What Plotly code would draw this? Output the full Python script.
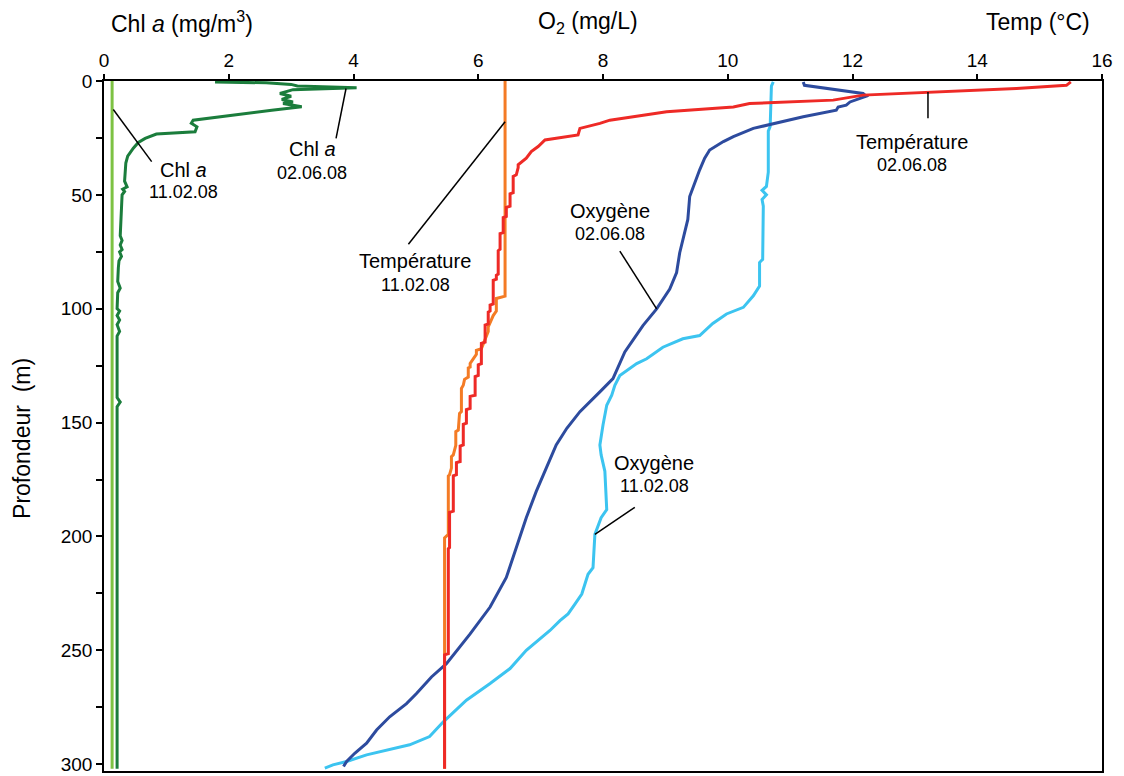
import plotly.graph_objects as go

# ---- profile data: values (shared 0-16 scale) against depth (m) ----
# Chlorophyll a, 11.02.08 (mg/m3)
chl_feb_val = [0.13, 0.13]
chl_feb_depth = [0, 302]

# Chlorophyll a, 02.06.08 (mg/m3)
chl_jun_val = [1.78, 2.6, 3.0, 3.1, 4.05, 3.03, 2.82, 3.0, 2.85, 3.03, 2.87, 3.17,
               2.69, 2.23, 1.91, 1.43, 1.40, 1.49, 1.46, 0.84, 0.66, 0.55, 0.47, 0.38,
               0.35, 0.34, 0.33, 0.37, 0.30, 0.33, 0.29, 0.28, 0.27, 0.26, 0.29, 0.26,
               0.29, 0.25, 0.28, 0.24, 0.23, 0.22, 0.26, 0.22, 0.21, 0.25, 0.21, 0.25,
               0.21, 0.25, 0.21, 0.21, 0.26, 0.21, 0.21]
chl_jun_depth = [0.4, 0.8, 1.5, 2.2, 3.0, 3.8, 5.5, 6.7, 8.1, 9.2, 9.9, 11.3,
                 12.8, 14.3, 15.4, 17.2, 18.6, 20.1, 22.3, 23.3, 25.2, 27.0, 29.5, 33.0,
                 36.0, 39.0, 44.0, 46.5, 47.5, 48.5, 50.0, 56.0, 64.0, 68.0, 70.0, 72.0,
                 74.0, 75.0, 77.0, 79.0, 82.0, 88.0, 91.0, 93.0, 100.0, 101.0, 103.0, 105.0,
                 107.0, 110.0, 112.0, 139.0, 141.0, 143.0, 302.0]

# Temperature, 11.02.08 (deg C)
temp_feb_val = [6.43, 6.43, 6.29, 6.29, 6.24, 6.21, 6.16, 6.16, 6.10, 6.05, 5.97, 5.97,
                5.92, 5.87, 5.87, 5.84, 5.84, 5.78, 5.76, 5.73, 5.73, 5.70, 5.68, 5.64,
                5.64, 5.60, 5.57, 5.57, 5.54, 5.52, 5.52, 5.46, 5.46]
temp_feb_depth = [0, 94.5, 95.5, 101, 103, 105, 108, 110, 114, 117.6, 118.3, 120,
                  122, 124, 125.6, 126, 130, 131, 133.6, 135, 145.2, 146, 153.3, 154,
                  160, 164.2, 165, 170, 172.9, 173.5, 199.1, 200.6, 302]

# Temperature, 02.06.08 (deg C)
temp_jun_val = [15.5, 15.43, 14.63, 13.24, 12.17, 11.69, 10.35, 10.09, 9.02, 8.11, 7.95,
                7.63, 7.60, 7.07, 6.96, 6.85, 6.77, 6.64, 6.64, 6.61, 6.56, 6.56, 6.51,
                6.51, 6.45, 6.45, 6.40, 6.40, 6.35, 6.35, 6.32, 6.32, 6.29, 6.29, 6.24,
                6.24, 6.19, 6.19, 6.16, 6.16, 6.11, 6.11, 6.05, 6.05, 6.00, 6.00, 5.95,
                5.95, 5.87, 5.87, 5.81, 5.81, 5.76, 5.76, 5.71, 5.71, 5.65, 5.65, 5.60,
                5.60, 5.54, 5.54, 5.52, 5.52, 5.46, 5.46]
temp_jun_depth = [0.4, 1.9, 3.3, 5.1, 6.2, 8.4, 9.9, 11.4, 13.5, 17.2, 18.6,
                  20.8, 23.7, 25.9, 28.8, 31.0, 33.9, 36.8, 38.0, 41.2, 41.9, 49.0, 49.5,
                  55.0, 55.5, 59.5, 60.0, 66.6, 67.0, 73.9, 74.5, 84.8, 85.3, 87.0, 87.5,
                  97.9, 98.4, 101.0, 101.5, 106.7, 107.2, 114.7, 115.2, 124.1, 124.6, 129.3, 129.8,
                  138.0, 138.5, 143.8, 144.3, 150.3, 150.8, 159.8, 160.3, 167.1, 167.6, 172.9, 173.4,
                  188.9, 189.4, 204.9, 205.4, 251.5, 252.0, 302.0]

# Oxygen, 11.02.08 (mg/L)
oxy_feb_val = [10.73, 10.70, 10.68, 10.65, 10.65, 10.62, 10.55, 10.62, 10.55, 10.57, 10.56,
               10.51, 10.51, 10.41, 10.25, 9.98, 9.76, 9.55, 9.28, 8.96, 8.70, 8.54, 8.27,
               8.19, 8.14, 8.06, 8.00, 7.95, 7.97, 8.03, 8.06, 7.97, 7.87, 7.84, 7.76, 7.66,
               7.55, 7.44, 7.31, 7.15, 6.77, 6.51, 6.19, 5.81, 5.44, 5.22, 4.90, 4.53, 4.21,
               3.89, 3.67, 3.54]
oxy_feb_depth = [0.4, 2.2, 20.0, 22.0, 40.0, 46.3, 48.0, 50.0, 52.0, 55.0, 78.3,
                 79.7, 90.0, 94.3, 99.4, 102.3, 106.5, 111.8, 113.2, 116.9, 122.0, 124.1, 129.3,
                 133.6, 138.0, 142.4, 151.1, 159.8, 164.2, 171.4, 188.2, 191.8, 199.1, 213.7, 216.6, 225.3,
                 229.7, 234.0, 237.0, 241.3, 250.0, 258.0, 264.6, 271.9, 281.4, 287.9, 291.5, 293.7, 295.9,
                 298.8, 300.3, 301.7]

# Oxygen, 02.06.08 (mg/L)
oxy_jun_val = [11.21, 11.23, 12.17, 12.22, 11.96, 11.90, 11.77, 11.74, 11.21, 10.62, 10.41,
               10.09, 9.93, 9.71, 9.63, 9.55, 9.47, 9.39, 9.36, 9.31, 9.23, 9.18, 9.07,
               8.86, 8.64, 8.35, 8.16, 7.95, 7.63, 7.42, 7.25, 7.09, 6.93, 6.77, 6.61,
               6.45, 6.19, 5.87, 5.49, 5.25, 5.01, 4.85, 4.58, 4.37, 4.21, 4.02, 3.89, 3.84]
oxy_jun_depth = [0.4, 1.9, 5.5, 6.7, 9.2, 10.6, 11.4, 12.8, 15.7, 19.3, 20.8,
                 24.4, 26.6, 30.3, 33.9, 39.0, 44.8, 50.7, 60.8, 66.6, 75.4, 84.1, 91.4,
                 100.1, 107.4, 119.0, 130.7, 136.5, 145.2, 152.5, 159.8, 170.0, 180.2, 191.8, 205.0,
                 218.0, 231.0, 242.8, 255.9, 261.7, 269.0, 273.4, 279.2, 285.0, 290.8, 295.2, 298.8, 301.0]

# axis ticks
x_ticks = [0, 2, 4, 6, 8, 10, 12, 14, 16]
y_ticks = [0, 50, 100, 150, 200, 250, 300]
y_minor_ticks = [25, 75, 125, 175, 225, 275]

FONT = "Arial, 'Liberation Sans', sans-serif"

series = [
    (chl_feb_val, chl_feb_depth, "#7DC243", "Chl a 11.02.08"),
    (chl_jun_val, chl_jun_depth, "#1B7D3C", "Chl a 02.06.08"),
    (temp_feb_val, temp_feb_depth, "#F47B25", "Température 11.02.08"),
    (oxy_feb_val, oxy_feb_depth, "#3CC4F0", "Oxygène 11.02.08"),
    (oxy_jun_val, oxy_jun_depth, "#2D4B9E", "Oxygène 02.06.08"),
    (temp_jun_val, temp_jun_depth, "#EE2A26", "Température 02.06.08"),
]

fig = go.Figure()
for vals, depth, color, name in series:
    fig.add_trace(go.Scatter(
        x=vals, y=depth, mode="lines", name=name,
        line=dict(color=color, width=3),
        hoverinfo="skip", cliponaxis=True,
    ))

# leader lines from labels to curves (data coordinates)
leaders = [
    ((0.149, 12.5), (0.764, 35.4)),
    ((3.88, 3.3), (3.72, 25.2)),
    ((6.43, 17.9), (4.88, 71.7)),
    ((8.27, 74.7), (8.86, 100.1)),
    ((13.21, 4.8), (13.21, 16.4)),
    ((8.51, 187.2), (7.87, 199.1)),
]
for (x0, y0), (x1, y1) in leaders:
    fig.add_shape(type="line", xref="x", yref="y", x0=x0, y0=y0, x1=x1, y1=y1,
                  line=dict(color="black", width=1.5))

# curve labels: name line and date line
curve_labels = [
    ("Chl <i>a</i>", "11.02.08", 1.27, 38.9, 48.9),
    ("Chl <i>a</i>", "02.06.08", 3.335, 29.7, 40.2),
    ("Température", "11.02.08", 4.99, 79.0, 89.5),
    ("Oxygène", "02.06.08", 8.11, 57.2, 67.2),
    ("Température", "02.06.08", 12.95, 26.6, 37.1),
    ("Oxygène", "11.02.08", 8.82, 167.7, 177.7),
]
annotations = []
for name, date, x, y_name, y_date in curve_labels:
    annotations.append(dict(x=x, y=y_name, xref="x", yref="y", text=name, showarrow=False,
                            font=dict(family=FONT, size=20, color="black"),
                            xanchor="center", yanchor="middle"))
    annotations.append(dict(x=x, y=y_date, xref="x", yref="y", text=date, showarrow=False,
                            font=dict(family=FONT, size=18, color="black"),
                            xanchor="center", yanchor="middle"))

# axis titles
W, H = 1124, 776
L, R, T, B = 104, 22, 81, 1
pw, ph = W - L - R, H - T - B


def px(x):
    return (x - L) / pw


def py(y):
    return 1 - (y - T) / ph


title_font = dict(family=FONT, size=23, color="black")
annotations += [
    dict(x=px(109), y=py(22), xref="paper", yref="paper", text="Chl <i>a</i> (mg/m<sup>3</sup>)",
         showarrow=False, font=title_font, xanchor="left", yanchor="middle"),
    dict(x=px(588), y=py(22), xref="paper", yref="paper", text="O<sub>2</sub> (mg/L)",
         showarrow=False, font=title_font, xanchor="center", yanchor="middle"),
    dict(x=px(1092), y=py(22), xref="paper", yref="paper", text="Temp (°C)",
         showarrow=False, font=title_font, xanchor="right", yanchor="middle"),
    dict(x=px(22), y=py(441), xref="paper", yref="paper", text="Profondeur\u00a0 (m)",
         showarrow=False, font=title_font, textangle=-90, xanchor="center", yanchor="middle"),
]

fig.update_layout(
    width=W, height=H,
    margin=dict(l=L, r=R, t=T, b=B, pad=0),
    paper_bgcolor="white", plot_bgcolor="white",
    showlegend=False,
    font=dict(family=FONT, size=19, color="black"),
    annotations=annotations,
    xaxis=dict(
        side="top", range=[0, 16], tickmode="array", tickvals=x_ticks,
        ticks="outside", ticklen=5, tickwidth=1.5, tickcolor="black",
        showline=True, linecolor="black", linewidth=1.5, mirror=True,
        showgrid=False, zeroline=False, tickfont=dict(family=FONT, size=19),
    ),
    yaxis=dict(
        range=[303, 0], tickmode="array", tickvals=y_ticks,
        ticks="outside", ticklen=6, tickwidth=1.5, tickcolor="black",
        minor=dict(tickmode="array", tickvals=y_minor_ticks, ticks="outside",
                   ticklen=6, tickwidth=1.5, tickcolor="black", showgrid=False),
        ticklabeloverflow="allow",
        showline=True, linecolor="black", linewidth=1.5, mirror=True,
        showgrid=False, zeroline=False, tickfont=dict(family=FONT, size=19),
    ),
)

fig.write_html("out.html", config={"displayModeBar": False})
